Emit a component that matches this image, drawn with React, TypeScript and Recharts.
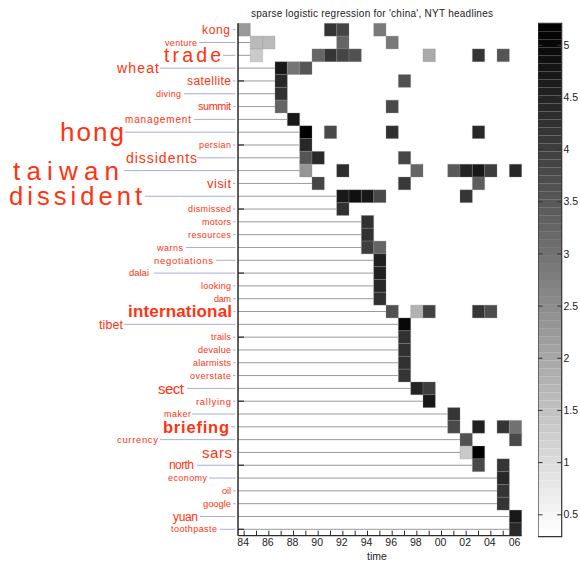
import React from "react";
import { ComposedChart, XAxis, YAxis, ReferenceArea, ReferenceLine, Scatter } from "recharts";

// ---------------- data ----------------
const words = [
  "kong", "venture", "trade", "wheat", "satellite", "diving", "summit", "management",
  "hong", "persian", "dissidents", "taiwan", "visit", "dissident", "dismissed", "motors",
  "resources", "warns", "negotiations", "dalai", "looking", "dam", "international", "tibet",
  "trails", "devalue", "alarmists", "overstate", "sect", "rallying", "maker", "briefing",
  "currency", "sars", "north", "economy", "oil", "google", "yuan", "toothpaste",
];

const years = [
  "84", "85", "86", "87", "88", "89", "90", "91", "92", "93", "94", "95",
  "96", "97", "98", "99", "00", "01", "02", "03", "04", "05", "06",
];

// weights[row] = list of [yearIndex, weight]
const weights: [number, number][][] = [
  [[0, 2.26], [7, 4.2], [8, 3.9], [11, 2.9]],
  [[1, 1.6], [2, 1.6], [8, 3.24], [12, 2.9]],
  [[1, 1.3], [6, 3.24], [7, 4.2], [8, 3.9], [9, 3.6], [15, 1.95], [19, 4.2], [21, 3.55]],
  [[3, 4.7], [4, 2.95], [5, 3.55]],
  [[3, 4.4], [13, 3.6]],
  [[3, 4.25]],
  [[3, 3.25], [12, 3.75]],
  [[4, 4.7]],
  [[5, 5.2], [7, 3.75], [12, 4.25], [19, 4.4]],
  [[5, 4.4]],
  [[5, 3.55], [6, 4.4], [13, 3.9]],
  [[5, 2.3], [8, 4.3], [14, 3.25], [17, 3.5], [18, 4.5], [19, 4.7], [20, 4.0], [22, 4.4]],
  [[6, 3.9], [13, 4.1], [19, 3.4]],
  [[8, 4.7], [9, 4.85], [10, 4.7], [11, 3.75], [18, 4.2]],
  [[8, 4.25]],
  [[10, 4.25]],
  [[10, 4.25]],
  [[10, 4.05], [11, 3.25]],
  [[11, 4.55]],
  [[11, 4.55]],
  [[11, 4.4]],
  [[11, 4.25]],
  [[12, 3.6], [14, 1.8], [15, 3.95], [19, 4.2], [20, 3.7]],
  [[13, 5.05]],
  [[13, 4.25]],
  [[13, 4.25]],
  [[13, 4.25]],
  [[13, 4.2]],
  [[14, 4.5], [15, 4.05]],
  [[15, 4.7]],
  [[17, 4.2]],
  [[17, 3.75], [19, 4.55], [21, 4.2], [22, 3.0]],
  [[18, 3.6], [22, 3.75]],
  [[18, 1.35], [19, 5.2]],
  [[19, 3.75], [21, 4.2]],
  [[21, 4.4]],
  [[21, 4.2]],
  [[21, 4.2]],
  [[22, 4.7]],
  [[22, 4.4]],
];

const colorbarTicks = [0.5, 1, 1.5, 2, 2.5, 3, 3.5, 4, 4.5, 5];
const colorMin = 0.29;
const colorMax = 5.21;
const colorLevels = 64;

const title = "sparse logistic regression for 'china', NYT headlines";
const xLabel = "time";

// ---------------- styles ----------------
const RED = "#ff3311";
const LAV = "#a9acd8";
const AXIS = "#2a2a2a";
const FONT = "'Liberation Sans', Arial, Helvetica, sans-serif";

// left label styling (font size, right edge, connector start, text length)
const labelStyle: { size: number; right: number; from: number; len: number; bold?: boolean }[] = [
  { size: 12, right: 230, from: 233, len: 28 },
  { size: 9, right: 197, from: 199, len: 32 },
  { size: 19.5, right: 221, from: 223, len: 57 },
  { size: 14, right: 159, from: 160, len: 42 },
  { size: 12, right: 231, from: 233, len: 44 },
  { size: 9, right: 181, from: 184, len: 25 },
  { size: 11, right: 231, from: 233, len: 33 },
  { size: 10, right: 191, from: 194, len: 66 },
  { size: 26, right: 124, from: 125, len: 64 },
  { size: 9, right: 231, from: 233, len: 32 },
  { size: 14, right: 197, from: 197, len: 71 },
  { size: 26, right: 119, from: 124, len: 106 },
  { size: 13, right: 231, from: 233, len: 24 },
  { size: 25.5, right: 142, from: 145, len: 133 },
  { size: 9, right: 231, from: 233, len: 43 },
  { size: 9, right: 231, from: 233, len: 29 },
  { size: 9, right: 231, from: 233, len: 43 },
  { size: 9, right: 183, from: 186, len: 26 },
  { size: 9.5, right: 213, from: 216, len: 59 },
  { size: 9.5, right: 149, from: 154, len: 20 },
  { size: 9, right: 231, from: 233, len: 30 },
  { size: 9, right: 231, from: 233, len: 17 },
  { size: 17, right: 232, from: 233.5, len: 104, bold: true },
  { size: 12.5, right: 123, from: 124, len: 24 },
  { size: 9, right: 231, from: 233, len: 20 },
  { size: 9, right: 231, from: 233, len: 33 },
  { size: 9, right: 231, from: 233, len: 38 },
  { size: 9, right: 231, from: 233, len: 41 },
  { size: 15, right: 184, from: 187, len: 26 },
  { size: 9.5, right: 231, from: 233, len: 35 },
  { size: 9, right: 191, from: 192, len: 27 },
  { size: 16.5, right: 229, from: 231, len: 66, bold: true },
  { size: 9.5, right: 158, from: 160, len: 41 },
  { size: 15, right: 232, from: 233.5, len: 30 },
  { size: 12, right: 194, from: 197, len: 25 },
  { size: 9, right: 207, from: 209, len: 39 },
  { size: 9.5, right: 231, from: 233, len: 9 },
  { size: 9.5, right: 231, from: 233, len: 28 },
  { size: 12, right: 198, from: 200, len: 25 },
  { size: 9, right: 217, from: 220, len: 46 },
];

// layout
const W = 580;
const H = 561;
const PL = 238;
const PR = 521.7;
const PT = 23.3;
const PB = 535.7;

function grayIndex(v: number) {
  const k = Math.floor(((v - colorMin) / (colorMax - colorMin)) * colorLevels);
  return Math.max(0, Math.min(colorLevels - 1, k));
}
function grayOf(k: number) {
  const g = Math.round(255 * (1 - k / (colorLevels - 1)));
  return `rgb(${g},${g},${g})`;
}
function colorOf(v: number) {
  return grayOf(grayIndex(v));
}

const cells = weights.flatMap((row, r) => row.map(([c, v]) => ({ col: c, row: r, value: v })));
const rowIdx = words.map((_, i) => i);
const colIdx = years.map((_, i) => i);
const majorRows = rowIdx.filter((i) => i % 5 === 4);

const LeftTick = (props: any) => {
  const { y, payload } = props;
  const i = payload.value as number;
  const s = labelStyle[i];
  return (
    <g>
      <line x1={s.from} x2={235.5} y1={y} y2={y} stroke={LAV} strokeWidth={1} />
      <text
        x={s.right}
        y={y}
        dy="0.35em"
        textAnchor="end"
        fontSize={s.size}
        fontWeight={s.bold ? "bold" : "normal"}
        fontFamily={FONT}
        fill={RED}
        textLength={s.len}
        lengthAdjust="spacing"
      >
        {words[i]}
      </text>
      {i % 5 === 4 && <line x1={PL} x2={PL + 6} y1={y} y2={y} stroke={AXIS} strokeWidth={1.2} />}
    </g>
  );
};

const RightTick = (props: any) => {
  const { y } = props;
  return <line x1={PR - 6} x2={PR} y1={y} y2={y} stroke={AXIS} strokeWidth={1.2} />;
};

const BottomTick = (props: any) => {
  const { x, payload } = props;
  const i = payload.value as number;
  return (
    <g>
      <line x1={x} x2={x} y1={PB} y2={PB - 5} stroke={AXIS} strokeWidth={1} />
      {i % 2 === 0 && (
        <text x={x - 1} y={PB + 10.5} textAnchor="middle" fontSize={10.5} fontFamily={FONT} fill="#222">
          {years[i]}
        </text>
      )}
    </g>
  );
};

const TopTick = (props: any) => {
  const { x } = props;
  return <line x1={x} x2={x} y1={PT} y2={PT + 4.5} stroke={AXIS} strokeWidth={1} />;
};

// colorbar chart geometry
const CB_LEFT = 538;
const CB_W = 42;
const CB_PLOT_W = 23.7;
const CB_BOTTOM = 536.7;

const ColorbarTick = (props: any) => {
  const { y, payload } = props;
  return (
    <g>
      <line x1={0} x2={4.5} y1={y} y2={y} stroke="#333" strokeWidth={1} />
      <line x1={CB_PLOT_W - 4.5} x2={CB_PLOT_W} y1={y} y2={y} stroke="#333" strokeWidth={1} />
      <text x={CB_PLOT_W + 1.8} y={y} dy="0.35em" fontSize={10.5} fontFamily={FONT} fill="#222">
        {payload.value}
      </text>
    </g>
  );
};

const levelIdx = Array.from({ length: colorLevels }, (_, k) => k);
const levelStep = (colorMax - colorMin) / colorLevels;
const colorbarPoints = colorbarTicks.map((t) => ({ x: 0.5, y: t }));

export default function App() {
  return (
    <div style={{ position: "absolute", left: 0, top: 0, width: W, height: H, background: "#fff" }}>
      <svg width={W} height={H} style={{ position: "absolute", left: 0, top: 0 }}>
        <text x={372} y={13.3} dy="0.35em" textAnchor="middle" fontSize={10} fontFamily={FONT} fill="#222" textLength={242} lengthAdjust="spacing">
          {title}
        </text>
        <text x={377} y={556} dy="0.35em" textAnchor="middle" fontSize={10.5} fontFamily={FONT} fill="#222">
          {xLabel}
        </text>
      </svg>
      <div style={{ position: "absolute", left: 0, top: 0 }}>
        <ComposedChart width={W} height={H} margin={{ top: PT, right: W - PR, bottom: 0, left: 0 }}>
          <XAxis
            xAxisId="b"
            type="number"
            dataKey="col"
            domain={[-0.5, years.length - 0.5]}
            ticks={colIdx}
            interval={0}
            height={H - PB}
            tickLine={false}
            axisLine={{ stroke: AXIS, strokeWidth: 1.2 }}
            tick={<BottomTick />}
            allowDataOverflow
          />
          <XAxis
            xAxisId="t"
            orientation="top"
            type="number"
            dataKey="col"
            domain={[-0.5, years.length - 0.5]}
            ticks={colIdx}
            interval={0}
            height={0}
            tickLine={false}
            axisLine={{ stroke: AXIS, strokeWidth: 1.2 }}
            tick={<TopTick />}
            allowDataOverflow
          />
          <YAxis
            yAxisId="l"
            type="number"
            dataKey="row"
            domain={[-0.5, words.length - 0.5]}
            reversed
            ticks={rowIdx}
            interval={0}
            width={PL}
            tickLine={false}
            axisLine={{ stroke: AXIS, strokeWidth: 1.5 }}
            tick={<LeftTick />}
            allowDataOverflow
          />
          <YAxis
            yAxisId="r"
            orientation="right"
            type="number"
            dataKey="row"
            domain={[-0.5, words.length - 0.5]}
            reversed
            ticks={majorRows}
            interval={0}
            width={0}
            tickLine={false}
            axisLine={{ stroke: AXIS, strokeWidth: 1.2 }}
            tick={<RightTick />}
            allowDataOverflow
          />
          {weights.map((row, r) => {
            const first = Math.min(...row.map((d) => d[0]));
            if (first <= 0) return null;
            return (
              <ReferenceLine
                key={`ln${r}`}
                xAxisId="b"
                yAxisId="l"
                segment={[
                  { x: -0.5, y: r },
                  { x: first - 0.5, y: r },
                ]}
                stroke="#9a9a9a"
                strokeWidth={1}
              />
            );
          })}
          {cells.map((c, k) => (
            <ReferenceArea
              key={`c${k}`}
              xAxisId="b"
              yAxisId="l"
              x1={c.col - 0.5}
              x2={c.col + 0.5}
              y1={c.row - 0.5}
              y2={c.row + 0.5}
              fill={colorOf(c.value)}
              fillOpacity={1}
              stroke="#8c8c8c"
              strokeOpacity={0.5}
              strokeWidth={0.6}
            />
          ))}
          <Scatter
            xAxisId="b"
            yAxisId="l"
            data={cells}
            dataKey="row"
            isAnimationActive={false}
            shape={() => <g />}
          />
        </ComposedChart>
      </div>
      <div style={{ position: "absolute", left: CB_LEFT, top: 0 }}>
        <ComposedChart
          width={CB_W}
          height={H}
          data={colorbarPoints}
          margin={{ top: PT, right: 0, bottom: H - CB_BOTTOM, left: 0 }}
        >
          <XAxis
            xAxisId="cx"
            type="number"
            dataKey="x"
            domain={[0, 1]}
            height={0}
            tick={false}
            tickLine={false}
            axisLine={false}
            allowDataOverflow
          />
          <YAxis
            yAxisId="cy"
            orientation="right"
            type="number"
            dataKey="y"
            domain={[colorMin, colorMax]}
            ticks={colorbarTicks}
            interval={0}
            width={CB_W - CB_PLOT_W}
            tickLine={false}
            axisLine={false}
            tick={<ColorbarTick />}
            allowDataOverflow
          />
          {levelIdx.map((k) => (
            <ReferenceArea
              key={`lv${k}`}
              xAxisId="cx"
              yAxisId="cy"
              x1={0}
              x2={1}
              y1={colorMin + k * levelStep}
              y2={colorMin + (k + 1) * levelStep}
              fill={grayOf(k)}
              fillOpacity={1}
              stroke="none"
            />
          ))}
          <ReferenceArea
            xAxisId="cx"
            yAxisId="cy"
            x1={0}
            x2={1}
            y1={colorMin}
            y2={colorMax}
            fill="none"
            stroke="#333"
            strokeWidth={1.2}
          />
          <Scatter
            xAxisId="cx"
            yAxisId="cy"
            dataKey="y"
            isAnimationActive={false}
            shape={() => <g />}
          />
        </ComposedChart>
      </div>
    </div>
  );
}
